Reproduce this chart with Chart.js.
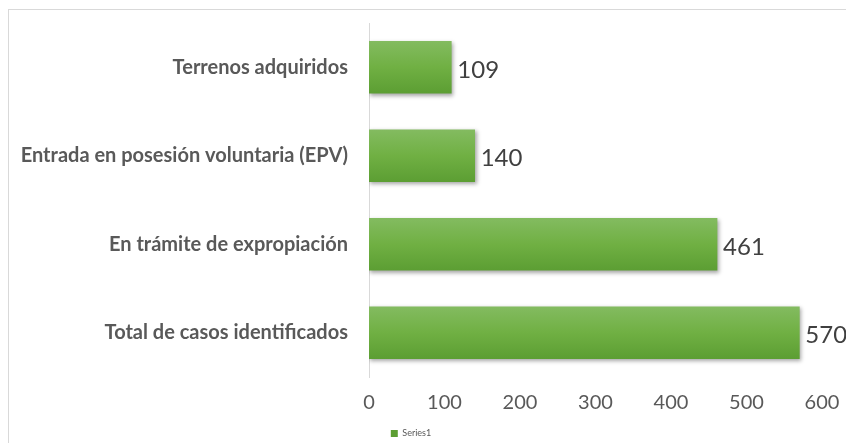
<!DOCTYPE html>
<html>
<head>
<meta charset="utf-8">
<script src="https://cdn.jsdelivr.net/npm/chart.js@4.4.1/dist/chart.umd.min.js"></script>
<style>
  html, body { margin: 0; padding: 0; background: #fff; }
  #wrap { width: 846px; height: 443px; position: relative; }
</style>
</head>
<body>
<div id="wrap"><canvas id="chart" width="846" height="443"></canvas></div>
<script>
// datos del gráfico
const categorias = ['Terrenos adquiridos', 'Entrada en posesión voluntaria (EPV)', 'En trámite de expropiación', 'Total de casos identificados'];
const valores = [109, 140, 461, 570];
const serieNombre = 'Series1';
const ticksX = [0, 100, 200, 300, 400, 500, 600];

// marco gris alrededor del gráfico
const marcoPlugin = {
    id: 'marco',
    beforeDraw(chart) {
        const ctx = chart.ctx;
        ctx.save();
        ctx.strokeStyle = '#d9d9d9';
        ctx.lineWidth = 1;
        ctx.strokeRect(8.5, 9.5, 900, 500);
        ctx.restore();
    }
};

// sombra suave de las barras
const sombraPlugin = {
    id: 'sombra',
    beforeDatasetsDraw(chart) {
        const ctx = chart.ctx;
        ctx.save();
        ctx.shadowColor = 'rgba(0,0,0,0.35)';
        ctx.shadowBlur = 4;
        ctx.shadowOffsetX = 1.5;
        ctx.shadowOffsetY = 2;
    },
    afterDatasetsDraw(chart) {
        chart.ctx.restore();
    }
};

// etiquetas de valor al final de cada barra
const etiquetasPlugin = {
    id: 'etiquetas',
    afterDraw(chart) {
        const ctx = chart.ctx;
        const meta = chart.getDatasetMeta(0);
        ctx.save();
        ctx.font = '24px Lato';
        ctx.fillStyle = '#404040';
        ctx.textAlign = 'left';
        ctx.textBaseline = 'middle';
        meta.data.forEach((bar, i) => {
            ctx.fillText(String(valores[i]), bar.x + 6, bar.y + 3);
        });
        ctx.restore();
    }
};

function degradado(context) {
    const el = context.element;
    if (!el || el.y === undefined || !el.height) return '#70ad47';
    const g = context.chart.ctx.createLinearGradient(0, el.y - el.height / 2, 0, el.y + el.height / 2);
    g.addColorStop(0, '#83bb60');
    g.addColorStop(0.5, '#70b043');
    g.addColorStop(1, '#5c9e33');
    return g;
}

const ctx = document.getElementById('chart').getContext('2d');
const chart = new Chart(ctx, {
    type: 'bar',
    data: {
        labels: categorias,
        datasets: [{
            label: serieNombre,
            data: valores,
            backgroundColor: degradado,
            borderWidth: 0,
            barThickness: 52
        }]
    },
    options: {
        indexAxis: 'y',
        responsive: false,
        animation: false,
        layout: { padding: { top: 23, right: 24, bottom: -5, left: 0 } },
        scales: {
            x: {
                min: 0,
                max: 600,
                afterBuildTicks(scale) {
                    scale.ticks = ticksX.map(v => ({ value: v }));
                },
                afterFit(scale) {
                    scale.height = 50;
                    scale.paddingLeft = 0;
                    scale.paddingRight = 0;
                },
                grid: { display: false, drawTicks: false },
                border: { display: false },
                ticks: {
                    color: '#595959',
                    font: { family: 'Lato', size: 20 },
                    padding: 14
                }
            },
            y: {
                afterFit(scale) {
                    scale.width = 369;
                    scale.paddingTop = 0;
                    scale.paddingBottom = 0;
                },
                grid: { display: false, drawTicks: false },
                border: { display: true, color: '#d9d9d9', width: 1 },
                ticks: {
                    color: '#595959',
                    font: { family: 'Lato', size: 20, weight: 'bold' },
                    padding: 21
                }
            }
        },
        plugins: {
            legend: {
                position: 'bottom',
                labels: {
                    color: '#595959',
                    font: { family: 'Lato', size: 9 },
                    boxWidth: 7,
                    boxHeight: 7,
                    padding: 2
                }
            },
            tooltip: { enabled: false }
        }
    },
    plugins: [marcoPlugin, sombraPlugin, etiquetasPlugin]
});
// segunda pasada para que el degradado conozca la posición de cada barra
chart.update();
</script>
</body>
</html>
